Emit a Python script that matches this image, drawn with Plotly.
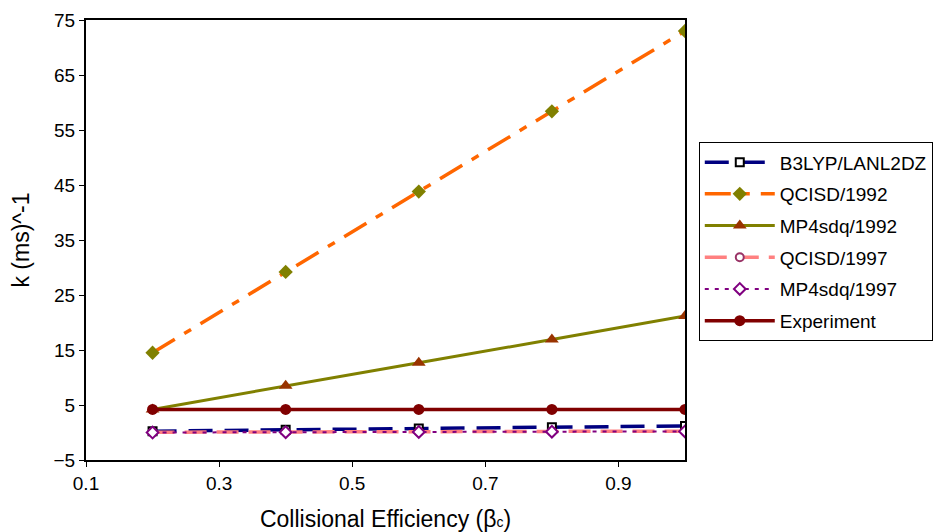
import plotly.graph_objects as go

beta = [0.2, 0.4, 0.6, 0.8, 1.0]
b3lyp = [0.25, 0.5, 0.72, 0.95, 1.2]
qcisd_1992 = [14.5, 29.2, 43.8, 58.4, 73.0]
mp4_1992 = [4.2, 8.5, 12.7, 16.9, 21.2]
qcisd_1997 = [0.05, 0.1, 0.15, 0.2, 0.25]
mp4_1997 = [0.0, 0.05, 0.1, 0.15, 0.2]
experiment = [4.2, 4.2, 4.2, 4.2, 4.2]

x_ticks = [0.1, 0.3, 0.5, 0.7, 0.9]
y_ticks = [-5, 5, 15, 25, 35, 45, 55, 65, 75]

fig = go.Figure()
fig.add_trace(go.Scatter(x=beta, y=b3lyp, name="B3LYP/LANL2DZ", mode="lines+markers", legendgroup="a",
    line=dict(color="#000080", width=3.5, dash="24px,12px"),
    marker=dict(symbol="square", size=8, color="white", line=dict(color="black", width=2))))
fig.add_trace(go.Scatter(x=beta, y=qcisd_1992, name="QCISD/1992", mode="lines+markers", legendgroup="b",
    line=dict(color="#FF6600", width=3.5, dash="26px,11px,8px,11px"),
    marker=dict(symbol="diamond", size=11, color="#808000", line=dict(width=0))))
fig.add_trace(go.Scatter(x=beta, y=mp4_1992, name="MP4sdq/1992", mode="lines+markers", legendgroup="c",
    line=dict(color="#808000", width=3),
    marker=dict(symbol="triangle-up", size=12, color="#993300", line=dict(color="#993300", width=0))))
fig.add_trace(go.Scatter(x=beta, y=qcisd_1997, name="QCISD/1997", mode="lines+markers", legendgroup="d",
    line=dict(color="#FF8080", width=3.5, dash="22px,10px"),
    marker=dict(symbol="circle", size=8, color="white", line=dict(color="#993366", width=2))))
fig.add_trace(go.Scatter(x=beta, y=mp4_1997, name="MP4sdq/1997", mode="lines+markers", legendgroup="e",
    line=dict(color="#800080", width=2, dash="4px,6px"),
    marker=dict(symbol="diamond", size=9, color="white", line=dict(color="#800080", width=2))))
fig.add_trace(go.Scatter(x=beta, y=experiment, name="Experiment", mode="lines+markers", legendgroup="f",
    line=dict(color="#800000", width=3.5),
    marker=dict(symbol="circle", size=11, color="#800000")))

fig.update_layout(
    width=937, height=524,
    paper_bgcolor="white", plot_bgcolor="white",
    margin=dict(l=78, r=256, t=12, b=72),
    font=dict(family="Liberation Sans, Arial", size=19, color="black"),
    showlegend=True,
    legend=dict(x=1.023, y=0.722, xanchor="left", yanchor="top",
                bordercolor="black", borderwidth=1, bgcolor="white",
                font=dict(size=19), tracegroupgap=4, itemwidth=70),
    xaxis=dict(range=[0.1, 1.0], tickvals=x_ticks, ticktext=[str(v) for v in x_ticks],
               showgrid=False, zeroline=False, showline=True, linecolor="black", linewidth=2,
               mirror=True, ticks="outside", ticklen=5, tickcolor="black", automargin=False,
               title=dict(text="Collisional Efficiency (β<span style='font-size:14px'>c</span>)", standoff=26)),
    yaxis=dict(range=[-5, 75], tickvals=y_ticks, showgrid=False, zeroline=False,
               showline=True, linecolor="black", linewidth=2, mirror=True, automargin=False,
               ticks="outside", ticklen=5, tickcolor="black",
               title=dict(text="k (ms)^-1", standoff=24)),
)

fig.write_html("out.html")
